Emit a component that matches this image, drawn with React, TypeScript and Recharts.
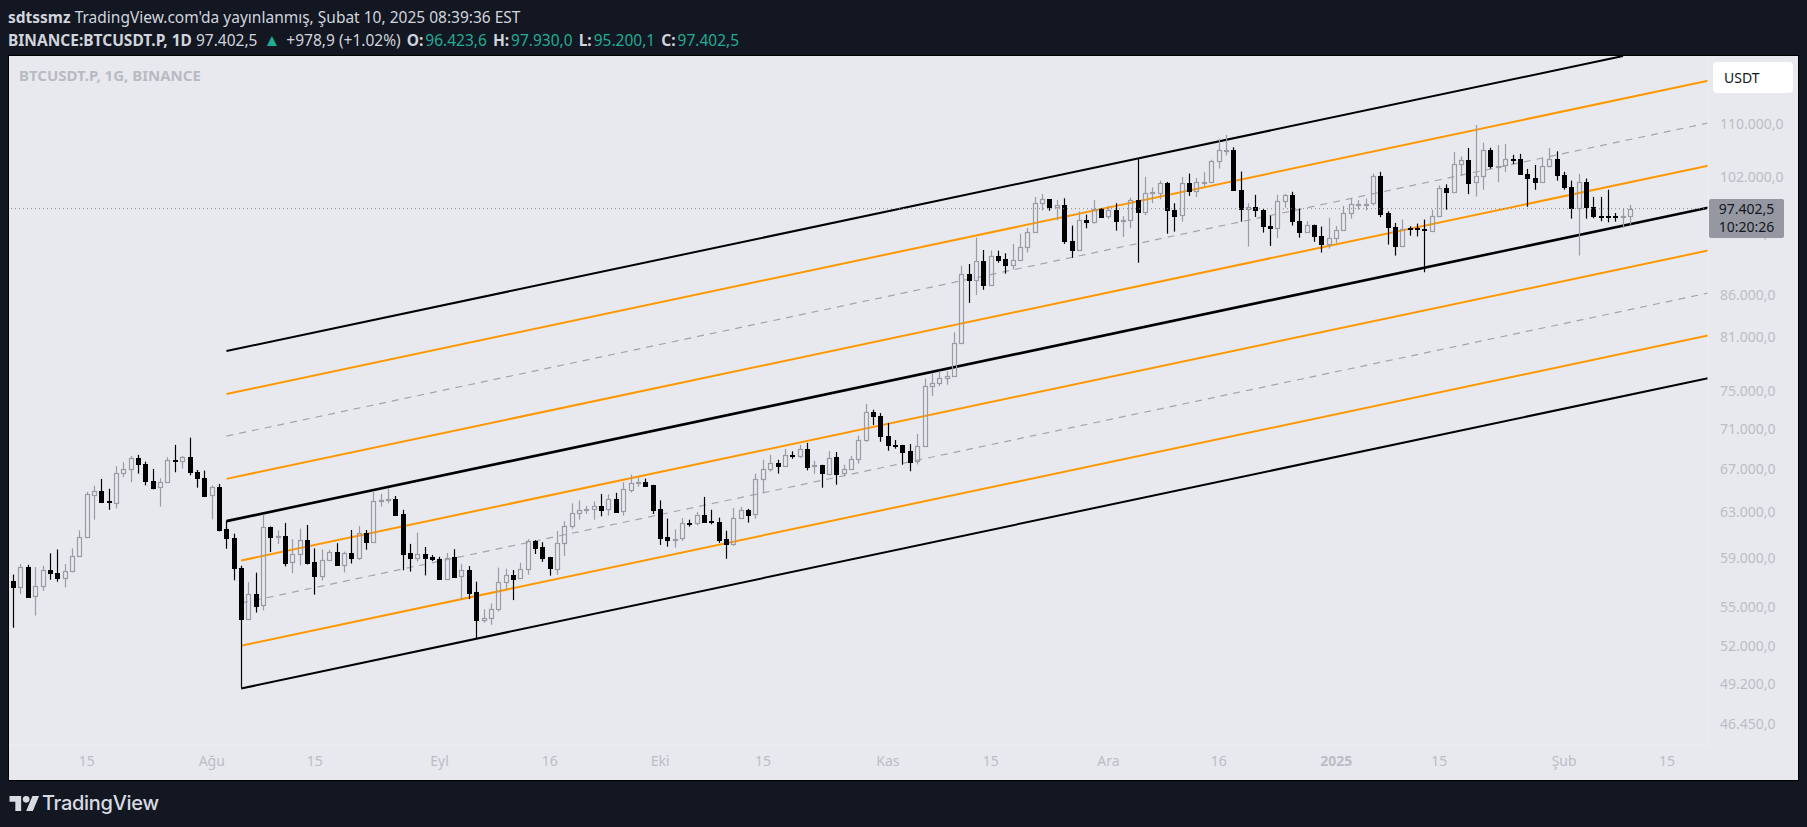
import { Bar, ComposedChart, Line, ReferenceLine, XAxis, YAxis } from "recharts";

// daily candles, BTCUSDT.P, day 0 = 5 Jul 2024
const opens = [
  57050,56560,58240,55810,56640,57960,57710,57300,57850,59120,
  60740,64600,64950,64000,63850,66640,66990,68100,67530,65870,
  65270,65780,67910,67780,68200,66760,66160,64540,65330,61510,
  60710,58160,54020,56010,55100,61660,60800,60890,58600,59290,
  60500,58650,57440,58790,59480,58350,59400,58960,61160,60330,
  64000,64060,64180,62850,59370,58930,59290,59070,58870,57190,
  59070,57440,57990,56170,53920,54100,54770,56970,57550,57270,
  58020,60440,59910,59070,58070,60240,61720,62880,63170,63260,
  63530,63230,64180,63050,65020,65680,65810,65520,63260,60770,
  60530,60650,62020,61990,62730,62160,62100,60590,60210,62460,
  63200,62790,66060,67020,67620,67340,68400,68230,68930,67400,
  67430,66570,68160,66600,67020,67970,69860,72760,72320,70300,
  69410,69340,68740,67780,69240,75500,75790,76380,76560,80290,
  88690,87900,90390,87250,91020,90600,89790,90470,92150,94160,
  98170,98720,97570,97940,93020,91830,95890,95520,97390,96340,
  97250,95750,95800,98620,96890,99600,99650,101120,97250,96480,
  101120,99850,101220,101170,104300,105920,105970,100090,97350,97620,
  97250,95070,94700,98440,99360,95700,94160,95160,93650,92600,
  93380,94480,96800,97980,98050,98170,102150,96840,94930,92380,
  94750,94700,94600,94290,96390,100370,99700,103810,104450,101170,
  102050,105920,103520,103660,104600,104600,102340,101850,101170,103570,
  104600,102200,100430,97440,101220,97620,96400,96400,96450,96300,
  96423.6,
];
const highs = [
  57580,58460,58400,58210,58320,59370,59700,58460,59790,61360,
  64860,65430,66060,65140,67300,67660,68290,68390,67720,67020,
  66130,68170,69380,68290,70100,66920,66860,65460,65590,62220,
  61070,58320,56970,57740,62760,61700,61360,62020,60590,61510,
  61840,59790,59700,59650,60240,59510,61390,61750,61390,64860,
  64660,65200,64470,63200,60180,61160,59910,59230,59070,59400,
  59730,58490,58290,57000,54790,55250,58160,58070,57960,58570,
  60590,60500,60330,59070,61300,62160,63790,64060,63560,63970,
  64660,64630,64760,65750,66480,66220,66100,65520,64060,62400,
  61450,62460,62310,62990,64380,63200,62490,61330,63350,63470,
  63290,66570,67910,68390,67910,68970,68740,69380,69580,67820,
  67430,68770,68670,67430,68290,70300,73580,72970,72620,71600,
  69860,69380,69450,70470,76300,76930,77110,77110,81550,89750,
  89960,93430,91790,91740,91700,91360,92610,93970,94750,99060,
  99500,98770,98620,98870,95070,97030,96570,98620,97480,97800,
  98170,96340,98970,104600,101980,100430,101410,101220,98170,101950,
  102440,101800,102640,104500,107670,108290,106380,102740,98170,99360,
  97350,96430,99360,99500,99800,97480,95660,95200,94930,96160,
  95020,97800,98870,98620,98820,102440,102690,97030,95430,95890,
  94980,95340,95890,97250,100710,100860,105670,104990,106280,109850,
  107100,106310,106740,106900,105230,105380,103130,103710,104690,106260,
  105770,102690,101410,102390,101710,99060,99060,100090,96800,97390,
  97930,
];
const lows = [
  53350,56010,55700,54300,56250,57160,57000,56530,57770,59090,
  60680,62310,63850,63200,63320,66220,65750,66570,65460,65080,
  63500,65710,66700,67050,66410,65240,64500,62340,61270,59760,
  57110,48920,54000,54530,54690,59480,60180,58270,57690,58350,
  58430,55950,57110,58730,58320,57770,58510,58820,59680,60300,
  63500,63790,62760,57940,57830,58680,57520,58710,57160,57160,
  57360,55510,55590,52560,53740,53580,54610,56340,55510,57250,
  57580,59310,58650,57500,57580,59150,61510,62310,62820,62310,
  62610,62670,62930,62670,64790,65330,65430,62820,60090,59940,
  59850,60440,61690,61810,62100,61900,60270,58900,60030,62430,
  62050,62400,64730,66760,66570,67210,68010,68100,66890,66570,
  65240,66410,65520,66320,66950,67530,69690,71390,69690,68800,
  69000,67430,66800,67460,69200,74430,75500,75640,76560,80210,
  85070,86060,86690,87160,90130,88730,89240,90340,91450,94060,
  97160,97120,95800,92600,90770,91790,94700,95340,96210,95980,
  94380,93520,94700,90130,96480,98170,98720,93970,94250,95610,
  99210,99060,100580,101070,103180,105130,99990,95610,92240,96250,
  94110,92330,93380,97530,95070,93430,94110,92880,91450,91970,
  92700,94380,96020,97250,97160,97850,96210,92510,91060,92330,
  93700,93600,88900,94250,96340,97260,99700,102150,99460,99110,
  100090,103180,101170,102640,103860,102290,97670,100090,101120,103370,
  101410,100090,96020,91060,96020,96070,95660,95520,95610,94750,
  95200.1,
];
const closes = [
  56530,58210,55790,56610,57960,57690,57270,57850,59120,60770,
  64630,64920,63910,63880,66640,66990,68070,67460,65840,65240,
  65780,67880,67850,68170,66700,66130,64500,65300,61420,60650,
  58100,54000,55980,55070,61660,60740,60840,58570,59290,60500,
  58570,57440,58790,59450,58350,59370,58930,61130,60300,64000,
  64060,64150,62760,59310,58930,59290,58980,58850,57190,59010,
  57410,57940,56090,53920,54100,54790,56970,57550,57250,58050,
  60420,59850,58980,58100,60240,61750,62880,63170,63230,63530,
  63200,64150,62990,65080,65680,65810,65430,63200,60710,60530,
  60620,62020,61900,62730,62130,62070,60530,60210,62460,63170,
  62760,66060,67020,67590,67340,68360,68300,68930,67240,67430,
  66600,68130,66570,67020,67970,69860,72730,72280,70230,69380,
  69350,68670,67720,69240,75500,75790,76380,76600,80290,88690,
  87880,90340,87250,90980,90510,89790,90470,92150,94200,98170,
  98720,97570,97890,92920,91830,95840,95520,97350,96300,97250,
  95750,95890,98580,96890,99600,99700,101120,97250,96430,101070,
  99850,101220,101250,104300,105920,105960,99990,97350,97620,97160,
  94980,94700,98440,99310,95660,94160,95160,93610,92600,93380,
  94480,96800,98030,98050,98120,102150,96710,94840,92330,94610,
  94650,94550,94400,96390,100370,99700,103860,104450,101120,102150,
  105920,103520,103570,104600,104500,102340,101850,101170,103570,104600,
  102200,100430,97440,101220,97570,96340,96340,96300,96340,96420,
  97402.5,
];

// channel drawn on the chart, start and end of each line
const topRail = [{ day: 29, price: 79390 }, { day: 219, price: 121290 }];
const upperOrangeA = [{ day: 29, price: 74640 }, { day: 230.57, price: 117060 }];
const upperDash = [{ day: 29, price: 70260 }, { day: 230.57, price: 110160 }];
const upperOrangeB = [{ day: 29, price: 66070 }, { day: 230.57, price: 103600 }];
const midRail = [{ day: 29, price: 62180 }, { day: 230.57, price: 97540 }];
const lowerOrangeA = [{ day: 31, price: 58760 }, { day: 230.57, price: 91720 }];
const lowerDash = [{ day: 31, price: 55270 }, { day: 230.57, price: 86280 }];
const lowerOrangeB = [{ day: 31, price: 51990 }, { day: 230.57, price: 81170 }];
const bottomRail = [{ day: 31, price: 48890 }, { day: 230.57, price: 76350 }];

const priceTicks = [110000, 102000, 94000, 86000, 81000, 75000, 71000, 67000, 63000, 59000, 55000, 52000, 49200, 46450];
const dayTicks = [10, 27, 41, 58, 73, 88, 102, 119, 133, 149, 164, 180, 194, 211, 225];
const dayLabels = ["15", "Ağu", "15", "Eyl", "16", "Eki", "15", "Kas", "15", "Ara", "16", "2025", "15", "Şub", "15"];

const lastPrice = 97402.5;
const ohlc = [["O:", "96.423,6"], ["H:", "97.930,0"], ["L:", "95.200,1"], ["C:", "97.402,5"]];

const candles = opens.map((open, i) => ({
  day: i,
  open,
  high: highs[i],
  low: lows[i],
  close: closes[i],
  range: [lows[i], highs[i]],
}));

const UP = "#9a9ba3";
const DOWN = "#000000";
const ORANGE = "#ff9800";
const DASH = "#a4a5ac";
const AXIS_TEXT = "#bcbdc5";
const PANEL = "#e8e9ee";
const TEAL = "#22ab94";
const FONT = "'Noto Sans', sans-serif";

const fmtPrice = (v: number) => v.toLocaleString("de-DE", { minimumFractionDigits: 1, maximumFractionDigits: 1 });

function Candle(props: any) {
  const { x, y, width, height, payload } = props;
  const top = Math.log(payload.high);
  const span = top - Math.log(payload.low) || 1;
  const yAt = (p: number) => y + (height * (top - Math.log(p))) / span;
  const cx = Math.round(x + width / 2) + 0.5;
  const up = payload.close >= payload.open;
  const bodyTop = Math.round(yAt(Math.max(payload.open, payload.close))) + 0.5;
  const bodyBottom = Math.max(Math.round(yAt(Math.min(payload.open, payload.close))) + 0.5, bodyTop + 1);
  const hi = yAt(payload.high);
  const lo = yAt(payload.low);
  if (up) {
    return (
      <g stroke={UP} strokeWidth={1.2} fill="none">
        <line x1={cx} x2={cx} y1={hi} y2={bodyTop} />
        <line x1={cx} x2={cx} y1={bodyBottom} y2={lo} />
        <rect x={cx - 2} y={bodyTop} width={4} height={bodyBottom - bodyTop} />
      </g>
    );
  }
  return (
    <g>
      <line x1={cx} x2={cx} y1={hi} y2={lo} stroke={DOWN} strokeWidth={1.2} />
      <rect x={cx - 2.5} y={bodyTop - 0.5} width={5} height={bodyBottom - bodyTop + 1} fill={DOWN} />
    </g>
  );
}

function DayTick({ x, y, payload }: any) {
  const i = dayTicks.indexOf(payload.value);
  const label = dayLabels[i];
  return (
    <text x={x} y={y} dy={4} textAnchor="middle" fontSize={14} fontFamily={FONT} fontWeight={label === "2025" ? 700 : 400} fill={AXIS_TEXT}>
      {label}
    </text>
  );
}

export default function App() {
  const rail = (data: { day: number; price: number }[], key: string, color: string, width: number, dash?: string) => (
    <Line
      key={key}
      data={data}
      dataKey="price"
      type="linear"
      stroke={color}
      strokeWidth={width}
      strokeDasharray={dash}
      dot={false}
      activeDot={false}
      legendType="none"
      isAnimationActive={false}
      zIndex={200}
    />
  );
  return (
    <div style={{ position: "absolute", left: 0, top: 0, width: 1807, height: 827, background: "#131722", fontFamily: FONT, overflow: "hidden" }}>
      <div style={{ position: "absolute", left: 8, top: 6, fontSize: 15.5, color: "#d1d4dc", whiteSpace: "nowrap" }}>
        <b>sdtssmz</b> TradingView.com'da yayınlanmış, Şubat 10, 2025 08:39:36 EST
      </div>
      <div style={{ position: "absolute", left: 8, top: 28, fontSize: 15.5, color: "#d1d4dc", whiteSpace: "nowrap" }}>
        <b>BINANCE:BTCUSDT.P, 1D</b> 97.402,5 <span style={{ color: TEAL, fontSize: 17, margin: "0 2px" }}>▲</span> +978,9 (+1.02%){" "}
        {ohlc.map(([name, value]) => (
          <span key={name} style={{ marginLeft: 2 }}>
            <b style={{ marginRight: 2 }}>{name}</b>
            <span style={{ color: TEAL }}>{value}</span>{" "}
          </span>
        ))}
      </div>

      <div style={{ position: "absolute", left: 9, top: 56, width: 1789, height: 724, background: PANEL, boxShadow: "0 0 0 1px #000" }}>
        <ComposedChart width={1789} height={724} data={candles} margin={{ top: 0, right: 0, bottom: 0, left: 0 }}>
          <XAxis
            dataKey="day"
            type="number"
            domain={[-0.585, 230.57]}
            allowDataOverflow
            ticks={dayTicks}
            interval={0}
            height={35}
            tick={<DayTick />}
            tickLine={false}
            tickSize={0}
            tickMargin={17}
            axisLine={{ stroke: "#edeef2" }}
          />
          <YAxis
            orientation="right"
            scale="log"
            type="number"
            domain={[45080, 121290]}
            allowDataOverflow
            ticks={priceTicks}
            interval={0}
            width={90}
            tickFormatter={fmtPrice}
            tick={{ fill: AXIS_TEXT, fontSize: 14, fontFamily: FONT }}
            tickLine={false}
            tickSize={0}
            tickMargin={12}
            axisLine={{ stroke: "#edeef2" }}
          />
          <ReferenceLine y={lastPrice} stroke="#85868d" strokeDasharray="1 3" />
          {rail(topRail, "top", "#000", 2)}
          {rail(upperOrangeA, "ua", ORANGE, 2)}
          {rail(upperDash, "ud", DASH, 1.2, "7 6")}
          {rail(upperOrangeB, "ub", ORANGE, 2)}
          {rail(midRail, "mid", "#000", 2.6)}
          {rail(lowerOrangeA, "la", ORANGE, 2)}
          {rail(lowerDash, "ld", DASH, 1.2, "7 6")}
          {rail(lowerOrangeB, "lb", ORANGE, 2)}
          {rail(bottomRail, "bot", "#000", 2)}
          <Bar dataKey="range" barSize={5} shape={<Candle />} isAnimationActive={false} zIndex={300} />
        </ComposedChart>

        <div style={{ position: "absolute", left: 10, top: 9, fontSize: 15, fontWeight: 700, color: "#b9bac2", whiteSpace: "nowrap" }}>
          BTCUSDT.P, 1G, BINANCE
        </div>
        <div style={{ position: "absolute", left: 1704, top: 6, width: 80, height: 31, background: "#fff", borderRadius: 4, color: "#131722", fontSize: 14, lineHeight: "31px", paddingLeft: 11, boxSizing: "border-box" }}>
          USDT
        </div>
        <div style={{ position: "absolute", left: 1700, top: 143, width: 75, height: 39, background: "#9598a1", borderRadius: 2, color: "#131722", fontSize: 14, lineHeight: "18px", paddingTop: 1, textAlign: "center", boxSizing: "border-box" }}>
          97.402,5<br />10:20:26
        </div>
      </div>

      <svg style={{ position: "absolute", left: 8, top: 796 }} width={33} height={15} viewBox="0 0 36 18">
        <path d="M14 18H7V7H0V0h14v18zM28 18h-8l7.5-18h8L28 18z" fill="#d9dbe2" />
        <circle cx="20" cy="4" r="4" fill="#d9dbe2" />
      </svg>
      <div style={{ position: "absolute", left: 42, top: 791, fontFamily: "Inter, sans-serif", fontSize: 20, fontWeight: 500, color: "#d9dbe2", letterSpacing: -0.3 }}>
        TradingView
      </div>
    </div>
  );
}
